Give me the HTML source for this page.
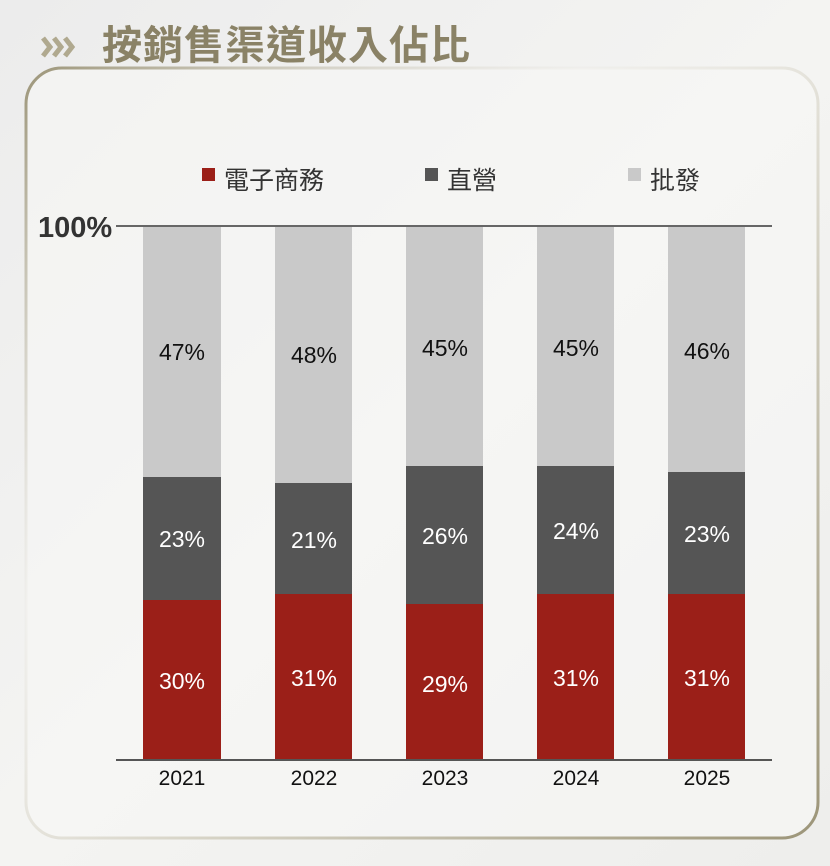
<!DOCTYPE html>
<html><head><meta charset="utf-8"><style>
body{margin:0;width:830px;height:866px;overflow:hidden;background:linear-gradient(135deg,#ececec 0%,#f4f4f2 50%,#eeeeec 100%);font-family:"Liberation Sans","Noto Sans CJK TC",sans-serif;position:relative}
.a{position:absolute}
.t{position:absolute;left:102px;top:13px;font-size:40px;font-weight:bold;color:#8a8266;font-family:"Liberation Sans","Noto Sans CJK TC",sans-serif;letter-spacing:1px}
.lab{position:absolute;width:78px;text-align:center;font-size:23px}
.yr{position:absolute;width:78px;text-align:center;font-size:21px;top:767px;color:#111}
.lg{position:absolute;top:161px;font-size:25px;color:#333}
.sq{position:absolute;width:13px;height:13px;top:168px}
</style></head><body>
<svg class="a" style="left:0;top:0" width="830" height="866">
<defs><linearGradient id="g" x1="0" y1="0" x2="1" y2="1"><stop offset="0" stop-color="#9c9579"/><stop offset="0.35" stop-color="#e8e6e0" stop-opacity="0.3"/><stop offset="0.6" stop-color="#d8d5c8"/><stop offset="1" stop-color="#9c9579"/></linearGradient></defs>
<rect x="26" y="68" width="792" height="770" rx="36" fill="#f6f6f5" fill-opacity="0.6" stroke="url(#g)" stroke-width="3"/>
<path d="M43 56 l7 -9 l-7 -9 M54 56 l7 -9 l-7 -9 M65 56 l7 -9 l-7 -9" fill="none" stroke="#b0a98f" stroke-width="5"/>
<line x1="116" y1="226" x2="772" y2="226" stroke="#666" stroke-width="2"/>
<line x1="116" y1="760" x2="772" y2="760" stroke="#555" stroke-width="2"/>
<g>
<rect x="143" y="227" width="78" height="250" fill="#c9c9c9"/><rect x="143" y="477" width="78" height="123" fill="#555"/><rect x="143" y="600" width="78" height="159" fill="#9b1f18"/>
<rect x="275" y="227" width="77" height="256" fill="#c9c9c9"/><rect x="275" y="483" width="77" height="111" fill="#555"/><rect x="275" y="594" width="77" height="165" fill="#9b1f18"/>
<rect x="406" y="227" width="77" height="239" fill="#c9c9c9"/><rect x="406" y="466" width="77" height="138" fill="#555"/><rect x="406" y="604" width="77" height="155" fill="#9b1f18"/>
<rect x="537" y="227" width="77" height="239" fill="#c9c9c9"/><rect x="537" y="466" width="77" height="128" fill="#555"/><rect x="537" y="594" width="77" height="165" fill="#9b1f18"/>
<rect x="668" y="227" width="77" height="245" fill="#c9c9c9"/><rect x="668" y="472" width="77" height="122" fill="#555"/><rect x="668" y="594" width="77" height="165" fill="#9b1f18"/>
</g>
</svg>
<div class="t">按銷售渠道收入佔比</div>
<div class="a" style="left:38px;top:212px;font-size:29px;font-weight:bold;color:#333">100%</div>
<div class="sq" style="left:202px;background:#9b1f18"></div><div class="lg" style="left:224px">電子商務</div>
<div class="sq" style="left:425px;background:#555"></div><div class="lg" style="left:447px">直營</div>
<div class="sq" style="left:628px;background:#c9c9c9"></div><div class="lg" style="left:650px">批發</div>
<div class="lab" style="left:143px;top:339px;color:#111">47%</div>
<div class="lab" style="left:275px;top:342px;color:#111">48%</div>
<div class="lab" style="left:406px;top:335px;color:#111">45%</div>
<div class="lab" style="left:537px;top:335px;color:#111">45%</div>
<div class="lab" style="left:668px;top:338px;color:#111">46%</div>
<div class="lab" style="left:143px;top:526px;color:#fff">23%</div>
<div class="lab" style="left:275px;top:527px;color:#fff">21%</div>
<div class="lab" style="left:406px;top:523px;color:#fff">26%</div>
<div class="lab" style="left:537px;top:518px;color:#fff">24%</div>
<div class="lab" style="left:668px;top:521px;color:#fff">23%</div>
<div class="lab" style="left:143px;top:668px;color:#fff">30%</div>
<div class="lab" style="left:275px;top:665px;color:#fff">31%</div>
<div class="lab" style="left:406px;top:671px;color:#fff">29%</div>
<div class="lab" style="left:537px;top:665px;color:#fff">31%</div>
<div class="lab" style="left:668px;top:665px;color:#fff">31%</div>
<div class="yr" style="left:143px">2021</div>
<div class="yr" style="left:275px">2022</div>
<div class="yr" style="left:406px">2023</div>
<div class="yr" style="left:537px">2024</div>
<div class="yr" style="left:668px">2025</div>
</body></html>
